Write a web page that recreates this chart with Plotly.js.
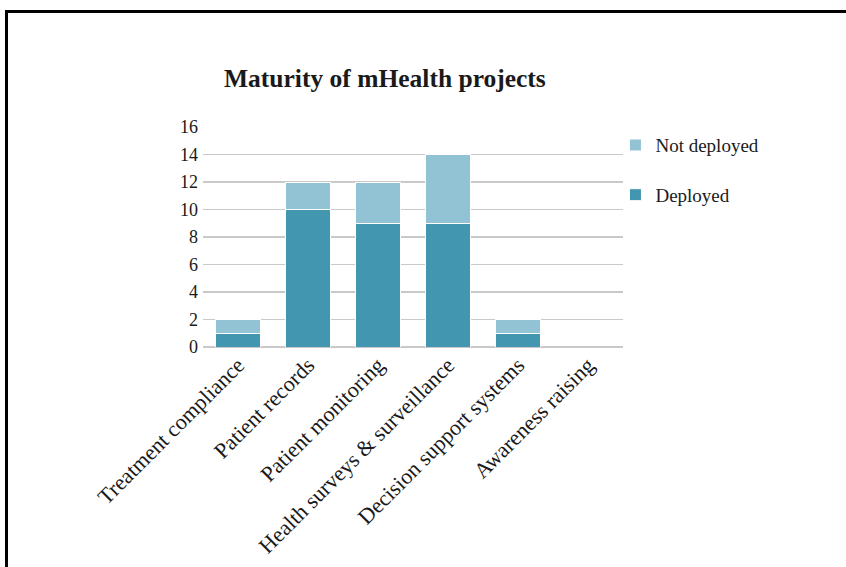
<!DOCTYPE html>
<html>
<head>
<meta charset="utf-8">
<script src="https://cdn.plot.ly/plotly-3.0.1.min.js"></script>
<style>
  html, body { margin: 0; padding: 0; background: #fff; }
  #wrap { position: relative; width: 846px; height: 567px; overflow: hidden; }
  #chart { position: absolute; left: 0; top: 0; width: 846px; height: 567px; }
  #frame { position: absolute; left: 5px; top: 10px; width: 860px; height: 580px;
           border-left: 3px solid #000; border-top: 3px solid #000; pointer-events: none; }
</style>
</head>
<body>
<div id="wrap">
  <div id="chart"></div>
  <div id="frame"></div>
</div>
<script>
const categories = ["Treatment compliance", "Patient records", "Patient monitoring",
                    "Health surveys & surveillance", "Decision support systems", "Awareness raising"];
const deployed = [1, 10, 9, 9, 1, 0];
const notDeployed = [1, 2, 3, 5, 1, 0];
const yTicks = [0, 2, 4, 6, 8, 10, 12, 14, 16];

const serif = "Liberation Serif, Times New Roman, serif";

const traces = [
  {
    type: "bar", name: "Deployed", x: categories, y: deployed,
    marker: { color: "#4396b0", line: { color: "#ffffff", width: 1 } },
    legendgroup: "a", legendrank: 2, hoverinfo: "skip"
  },
  {
    type: "bar", name: "Not deployed", x: categories, y: notDeployed,
    marker: { color: "#92c3d5", line: { color: "#ffffff", width: 1 } },
    legendgroup: "b", legendrank: 1, hoverinfo: "skip"
  }
];

const layout = {
  width: 846, height: 567,
  margin: { l: 203, r: 223, t: 127, b: 220 },
  paper_bgcolor: "#ffffff", plot_bgcolor: "#ffffff",
  barmode: "stack", bargap: 0.36,
  title: {
    text: "<b>Maturity of mHealth projects</b>",
    font: { family: serif, size: 25.5, color: "#1a1a1a" },
    x: 0.455, xanchor: "center", y: 0.862, yanchor: "middle"
  },
  xaxis: {
    type: "category", tickangle: -45,
    tickfont: { family: serif, size: 22, color: "#1a1a1a" },
    showgrid: false, showline: false, ticks: "", zeroline: false
  },
  yaxis: {
    range: [0, 16], tickvals: yTicks, ticktext: yTicks.map(String),
    tickfont: { family: serif, size: 18, color: "#1a1a1a" },
    showgrid: true, gridcolor: "#c9c9c9", gridwidth: 1.5,
    zeroline: true, zerolinecolor: "#c9c9c9", zerolinewidth: 1.5,
    showline: false, ticks: "", ticklabelstandoff: 4
  },
  showlegend: true,
  legend: {
    x: 0.982, xanchor: "left", y: 1.004, yanchor: "top",
    font: { family: serif, size: 19, color: "#1a1a1a" },
    traceorder: "grouped", tracegroupgap: 22,
    itemwidth: 30, bgcolor: "rgba(0,0,0,0)"
  }
};

Plotly.newPlot("chart", traces, layout, { displayModeBar: false, staticPlot: true });
</script>
</body>
</html>
